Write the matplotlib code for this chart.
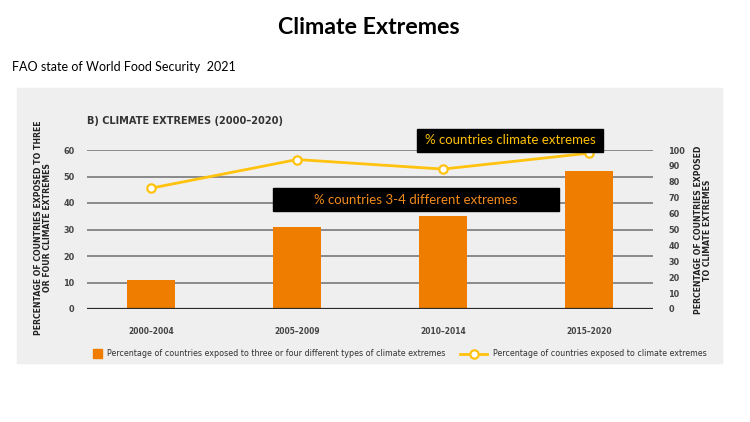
import os
import matplotlib
matplotlib.use('Agg')
import matplotlib.pyplot as plt
from matplotlib.patches import Rectangle
from matplotlib.lines import Line2D
from matplotlib import font_manager
from matplotlib.font_manager import FontProperties

periods = ['2000–2004', '2005–2009', '2010–2014', '2015–2020']
pct_three_four = [11, 31, 35, 52]      # left axis, bars
pct_exposed = [76, 94, 88, 98]         # right axis, line

left_ticks = [0, 10, 20, 30, 40, 50, 60]
right_ticks = [0, 10, 20, 30, 40, 50, 60, 70, 80, 90, 100]

ORANGE = '#EF7D00'
GOLD = '#FFC20E'
PANEL = '#EFEFEF'
SLIDE = 'Lato'

# look for a condensed / narrow sans font file (the FAO chart uses a condensed face)
def find_cond(bold):
    best = None
    for f in font_manager.fontManager.ttflist:
        fn = os.path.basename(f.fname).lower()
        if not ('condensed' in fn or 'narrow' in fn):
            continue
        if 'serif' in fn or 'mono' in fn or 'italic' in fn or 'oblique' in fn:
            continue
        if ('bold' in fn) != bold:
            continue
        if bold is False and any(w in fn for w in ('light', 'thin', 'medium', 'black', 'semi', 'extra')):
            continue
        if bold and any(w in fn for w in ('semi', 'extra', 'ultra')):
            continue
        best = f.fname
        if 'dejavu' in fn or 'liberation' in fn:
            break
    return best

reg_path = find_cond(False)
bold_path = find_cond(True)

def cond(size, bold=False):
    p = bold_path if bold else reg_path
    if p:
        return FontProperties(fname=p, size=size)
    return FontProperties(family='Roboto', size=size * 0.95,
                          weight='bold' if bold else 'normal', stretch='condensed')

W, H = 750, 422
def fx(x): return x / W
def fy(y): return 1 - y / H

fig = plt.figure(figsize=(7.5, 4.22), dpi=100)

# grey panel behind the chart
fig.patches.append(Rectangle((fx(17), fy(363)), fx(722) - fx(17), fy(88) - fy(363),
                             transform=fig.transFigure, color=PANEL, zorder=-1))

fig.text(fx(369), fy(27), 'Climate Extremes', ha='center', va='center',
         fontsize=16.7, fontweight='bold', family=SLIDE)
fig.text(fx(12), fy(67), 'FAO state of World Food Security  2021', ha='left', va='center',
         fontsize=9, family=SLIDE)
fig.text(fx(87), fy(121), 'B) CLIMATE EXTREMES (2000–2020)', ha='left', va='center',
         fontproperties=cond(7.8, True), color='#333333')

ax = fig.add_axes([fx(87), fy(309), fx(653) - fx(87), fy(150) - fy(309)])
ax.patch.set_visible(False)
x = list(range(len(periods)))
bars = ax.bar(x, pct_three_four, width=0.33, color=ORANGE, zorder=2)
ax.set_xlim(-0.44, 3.44)
ax.set_ylim(0, 60)
ax.set_yticks(left_ticks)
ax.set_xticks(x)
ax.set_xticklabels(periods, fontproperties=cond(6, True), color='#444444')
ax.set_yticklabels([str(v) for v in left_ticks], fontproperties=cond(6.5, True), color='#444444')
ax.tick_params(axis='both', length=0)
ax.tick_params(axis='y', pad=9)
ax.tick_params(axis='x', pad=13)
ax.yaxis.grid(True, color='#6E6E6E', lw=1.1)
ax.set_axisbelow(True)
ax.axhline(0, color='#2A2A2A', lw=1.6, zorder=3)
for s in ax.spines.values():
    s.set_visible(False)

ax2 = ax.twinx()
line, = ax2.plot(x, pct_exposed, color=GOLD, lw=2, marker='o', markersize=6,
                 markerfacecolor='white', markeredgecolor=GOLD, markeredgewidth=1.6,
                 zorder=4, clip_on=False)
ax2.set_ylim(0, 100)
ax2.set_yticks(right_ticks)
ax2.set_yticklabels([str(v) for v in right_ticks], fontproperties=cond(6.5, True), color='#444444')
ax2.tick_params(axis='y', length=0, pad=11)
for s in ax2.spines.values():
    s.set_visible(False)

fig.text(fx(43), fy(228), 'PERCENTAGE OF COUNTRIES EXPOSED TO THREE\nOR FOUR CLIMATE EXTREMES',
         rotation=90, ha='center', va='center', multialignment='center',
         fontproperties=cond(6.2, True), color='#222222', linespacing=1.05)
fig.text(fx(703), fy(230), 'PERCENTAGE OF COUNTRIES EXPOSED\nTO CLIMATE EXTREMES',
         rotation=90, ha='center', va='center', multialignment='center',
         fontproperties=cond(6.2, True), color='#222222', linespacing=1.05)

# black annotation boxes
fig.patches.append(Rectangle((fx(273), fy(211)), fx(559) - fx(273), fy(188) - fy(211),
                             transform=fig.transFigure, color='black', zorder=5))
fig.text(fx(416), fy(199.5), '% countries 3-4 different extremes', ha='center', va='center',
         fontsize=9.5, family=SLIDE, color='#F08A1C', zorder=6)
fig.patches.append(Rectangle((fx(417), fy(152)), fx(603) - fx(417), fy(129) - fy(152),
                             transform=fig.transFigure, color='black', zorder=5))
fig.text(fx(510), fy(140.5), '% countries climate extremes', ha='center', va='center',
         fontsize=9.5, family=SLIDE, color='#FFC000', zorder=6)

# legend
fig.patches.append(Rectangle((fx(93), fy(358)), fx(102) - fx(93), fy(349) - fy(358),
                             transform=fig.transFigure, color=ORANGE))
fig.text(fx(107), fy(353.5), 'Percentage of countries exposed to three or four different types of climate extremes',
         ha='left', va='center', fontproperties=cond(6.4), color='#333333')
fig.lines.append(Line2D([fx(460), fx(487)], [fy(353.5), fy(353.5)], transform=fig.transFigure,
                        color=GOLD, lw=2))
fig.lines.append(Line2D([fx(474)], [fy(353.5)], transform=fig.transFigure, marker='o',
                        markersize=6, markerfacecolor='white', markeredgecolor=GOLD,
                        markeredgewidth=1.6))
fig.text(fx(493), fy(353.5), 'Percentage of countries exposed to climate extremes',
         ha='left', va='center', fontproperties=cond(6.4), color='#333333')

fig.savefig('out.png', dpi=100)
